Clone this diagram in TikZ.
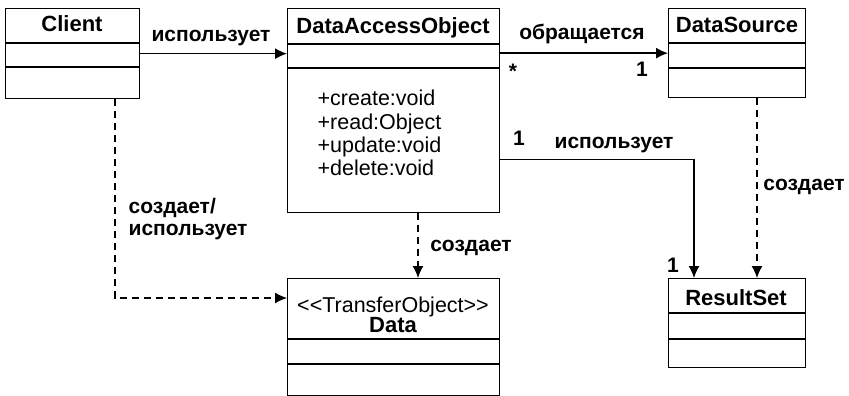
\documentclass[tikz,border=0pt]{standalone}
\usepackage{fontspec}
\setmainfont{Liberation Sans}
\usetikzlibrary{arrows.meta}

\begin{document}
\begin{tikzpicture}[x=1pt, y=-1pt, line width=1.3,
    every node/.style={font=\fontsize{21.5}{24}\selectfont, inner sep=0},
    box/.style={draw, anchor=north west},
    title/.style={anchor=base, font=\fontsize{22}{24}\selectfont\bfseries},
    lbl/.style={anchor=base, font=\fontsize{21}{24}\selectfont\bfseries},
    >={Latex[length=12, width=11]},
    dep/.style={->, dash pattern=on 7 off 5}]
  \useasboundingbox (0, 0) rectangle (849, 396);

  % classes
  \node[box, minimum width=134, minimum height=90] (client) at (5, 8) {};
  \node[box, minimum width=212, minimum height=204] (dao) at (287, 8) {};
  \node[box, minimum width=137, minimum height=89] (ds) at (668, 8) {};
  \node[box, minimum width=212, minimum height=117] (data) at (287, 278) {};
  \node[box, minimum width=137, minimum height=89] (rs) at (668, 278) {};

  \foreach \y in {43, 67} \draw (5, \y) -- (139, \y);
  \foreach \y in {44, 68} \draw (287, \y) -- (499, \y);
  \foreach \y in {43, 68} \draw (668, \y) -- (805, \y);
  \foreach \y in {339, 364} \draw (287, \y) -- (499, \y);
  \foreach \y in {313, 339} \draw (668, \y) -- (805, \y);

  \node[title] (clientname) at (72, 32) {Client};
  \node[title] (daoname) at (393, 34) {DataAccessObject};
  \node[title] (dsname) at (737, 33) {DataSource};
  \node[title] (rsname) at (736, 305) {ResultSet};
  \node[anchor=base] (stereo) at (393, 312) {<\kern0pt<TransferObject>\kern0pt>};
  \node[title] (dataname) at (393, 332) {Data};

  \foreach [count=\n] \m in {create:void, read:Object, update:void, delete:void}
    \node[anchor=base west] (op\n) at (317, 83 + 23 * \n) {+\m};

  % connectors
  \coordinate (useout) at ([yshift=-49]dao.east);
  \coordinate (rsuse) at ([xshift=26]rs.north west);
  \coordinate (rsmake) at ([xshift=89]rs.north west);
  \coordinate (datamake) at ([xshift=131]data.north west);
  \coordinate (clientout) at ([xshift=110]client.south west);
  \coordinate (datain) at ([yshift=-20]data.north west);

  \draw[->] (client.east) -- (client.east -| dao.west);
  \draw[->] (dao.east |- ds.west) -- (ds.west);
  \draw[->] (useout) -| (rsuse);
  \draw[dep] (ds.south -| rsmake) -- (rsmake);
  \draw[dep] (dao.south -| datamake) -- (datamake);
  \draw[dep] (clientout) |- (datain);

  \node[lbl] (uses1) at (211, 42) {использует};
  \node[lbl] (calls) at (582, 40) {обращается};
  \node[lbl] (many) at (513, 79) {*};
  \node[lbl] (one1) at (642, 77) {1};
  \node[lbl] (one2) at (519, 145) {1};
  \node[lbl] (uses2) at (614, 148) {использует};
  \node[lbl] (makes1) at (804, 190) {создает};
  \node[lbl] (one3) at (673, 272) {1};
  \node[lbl] (makes2) at (471, 251) {создает};
  \node[lbl, anchor=base west] (makes3) at (128, 213) {создает/};
  \node[lbl, anchor=base west] (uses3) at (128, 235) {использует};
\end{tikzpicture}
\end{document}
